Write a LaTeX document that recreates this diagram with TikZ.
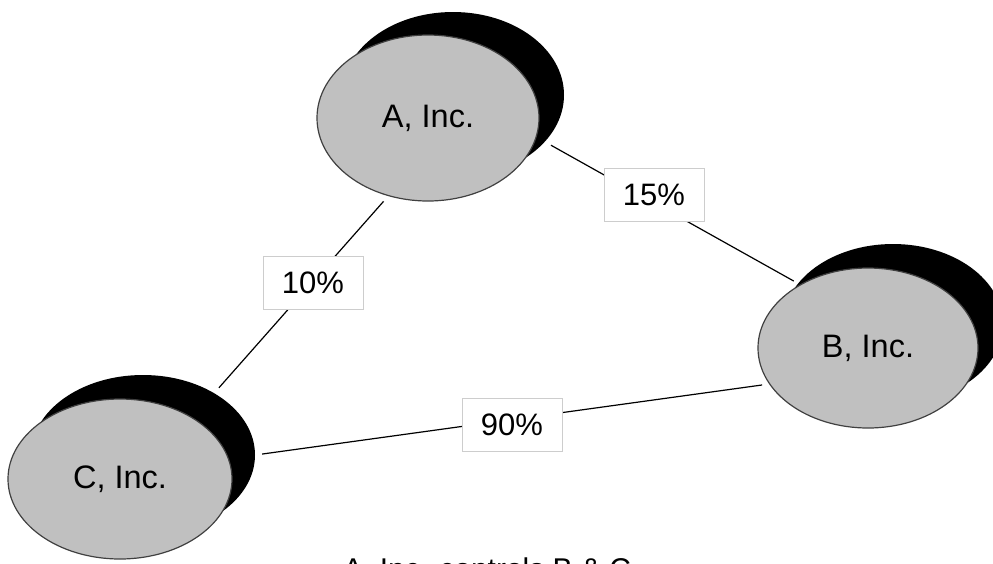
\documentclass[tikz,border=0pt]{standalone}
\usepackage{fontspec}
\setmainfont{Liberation Sans}
\usetikzlibrary{shapes.geometric}
\definecolor{silver}{RGB}{192,192,192}
\definecolor{boxgray}{RGB}{205,205,205}
\begin{document}
\begin{tikzpicture}[x=1pt,y=-1pt,
  company/.style={ellipse, fill=silver, draw=black!75, line width=1.2pt,
    inner sep=0pt, font=\fontsize{32.5}{38}\selectfont},
  shadowdisc/.style={ellipse, fill=black, inner sep=0pt},
  pct/.style={fill=white, draw=boxgray, line width=1pt, minimum width=100pt,
    minimum height=53pt, inner sep=0pt, font=\fontsize{31}{36}\selectfont},
  link/.style={draw=black, line width=1.2pt, shorten <=7pt, shorten >=7pt}]
\useasboundingbox (0,0) rectangle (993,563);
\clip (0,0) rectangle (993,563);

% drop shadows behind the company discs
\node[shadowdisc, minimum width=222pt, minimum height=166pt] (as) at (453,95) {};
\node[shadowdisc, minimum width=220pt, minimum height=160pt] (bs) at (893,324) {};
\node[shadowdisc, minimum width=224pt, minimum height=160pt] (cs) at (143,455) {};

% companies
\node[company, minimum width=222pt, minimum height=166pt] (a) at (428,118) {A, Inc.};
\node[company, minimum width=220pt, minimum height=160pt] (b) at (868,348) {B, Inc.};
\node[company, minimum width=224pt, minimum height=160pt] (c) at (120,479) {C, Inc.};

% ownership links
\draw[link] (a.-117) -- (cs.41);
\draw[link] (as.-27) -- (b.137);
\draw[link] (cs.0) -- (b.-160);

% ownership percentages
\node[pct] (pac) at (313,283) {10\%};
\node[pct] (pab) at (654,195) {15\%};
\node[pct] (pcb) at (512,425) {90\%};

% caption, running off the lower edge
\node[anchor=base west, inner sep=0pt, font=\fontsize{30}{36}\selectfont] (caption)
  at (343,579) {A, Inc. controls B \& C};
\end{tikzpicture}
\end{document}
